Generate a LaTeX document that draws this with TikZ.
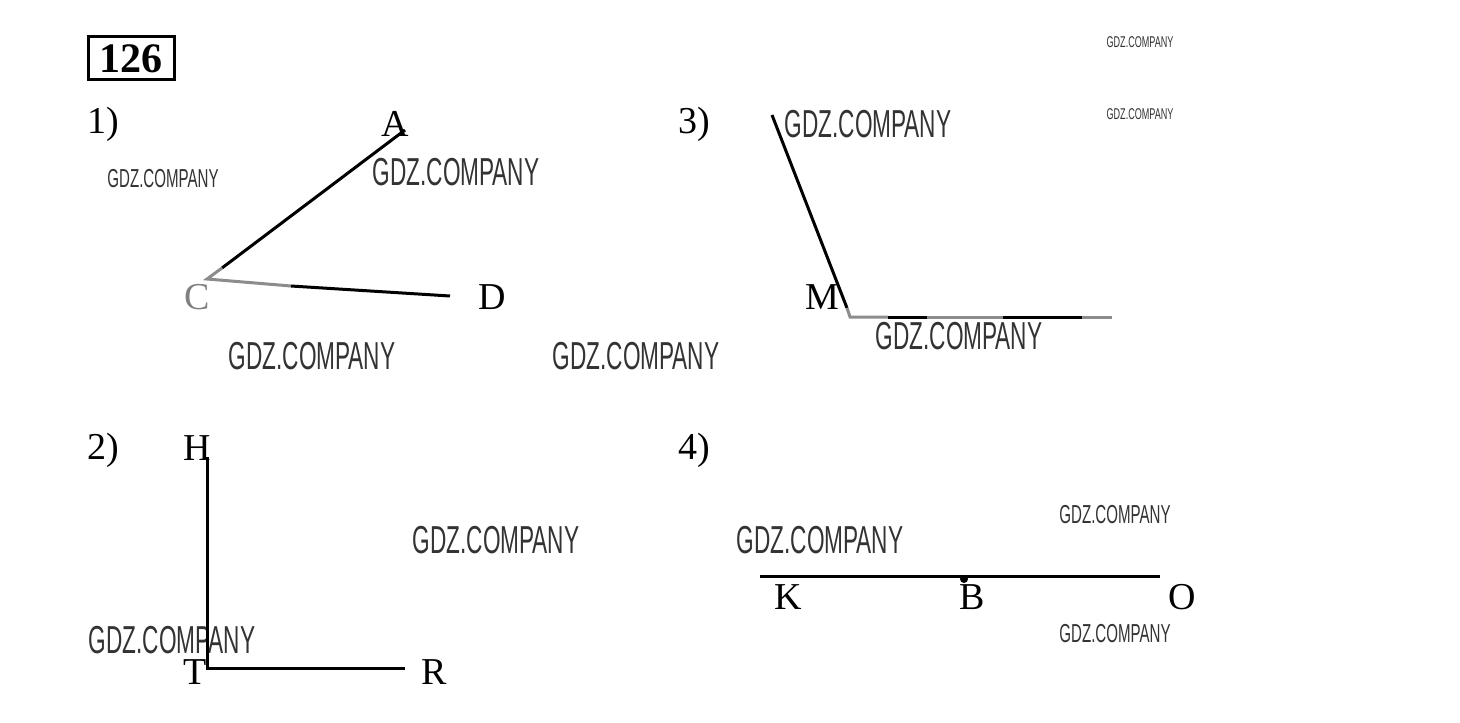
\documentclass[tikz,border=0pt]{standalone}
\usepackage{fontspec}
\setmainfont{Liberation Serif}
\newfontfamily\wmfont[FakeStretch=0.58]{Liberation Sans}
\begin{document}
\begin{tikzpicture}[x=0.5pt,y=-0.5pt,
  lbl/.style={inner sep=0pt,font=\fontsize{19}{19}\selectfont},
  wmbig/.style={inner sep=0pt,text=black!80,font=\wmfont\fontsize{19.5}{20}\selectfont},
  wmsmall/.style={inner sep=0pt,text=black!80,font=\wmfont\fontsize{13}{14}\selectfont},
  wmtiny/.style={inner sep=0pt,text=black!80,font=\wmfont\fontsize{7.8}{8}\selectfont},
  seg/.style={line width=1.5pt},
  gseg/.style={line width=1.5pt,draw=black!45}]
\useasboundingbox[fill=white] (0,0) rectangle (1460,722);
% title box
\node[draw,line width=1.5pt,minimum width=43pt,minimum height=21.5pt,inner sep=0pt,
  font=\bfseries\fontsize{21}{21}\selectfont] (num) at (131,58.5) {126};
% watermarks
\node[wmtiny] (w1) at (1140,42) {GDZ.COMPANY};
\node[wmtiny] (w2) at (1140,114) {GDZ.COMPANY};
\node[wmsmall] (w3) at (163,179) {GDZ.COMPANY};
\node[wmbig] (w4) at (456,172) {GDZ.COMPANY};
\node[wmbig] (w5) at (868,124) {GDZ.COMPANY};
\node[wmbig] (w6) at (312,356) {GDZ.COMPANY};
\node[wmbig] (w7) at (636,356) {GDZ.COMPANY};
\node[wmbig] (w8) at (959,336) {GDZ.COMPANY};
\node[wmbig] (w9) at (496,540) {GDZ.COMPANY};
\node[wmbig] (w10) at (820,540) {GDZ.COMPANY};
\node[wmbig] (w11) at (172,640) {GDZ.COMPANY};
\node[wmsmall] (w12) at (1115,515) {GDZ.COMPANY};
\node[wmsmall] (w13) at (1115,634) {GDZ.COMPANY};
% panel labels
\node[lbl] (p1) at (103,124) {1)};
\node[lbl] (p2) at (103,450) {2)};
\node[lbl] (p3) at (694,124) {3)};
\node[lbl] (p4) at (694,450) {4)};
% panel 1
\coordinate (A) at (405,130);
\coordinate (C) at (207,279);
\coordinate (Cb) at (222,268);
\coordinate (Dg) at (291,286);
\coordinate (D) at (450,296);
\node[lbl] (lA) at (395,124) {A};
\node[lbl,text=black!50] (lC) at (197,297) {C};
\node[lbl] (lD) at (492,297) {D};
\draw[seg] (A) -- (Cb);
\draw[gseg] (Cb) -- (C) -- (Dg);
\draw[seg] (Dg) -- (D);
% panel 3
\coordinate (N) at (772,115);
\coordinate (Mb) at (847,308);
\coordinate (M) at (850,317);
\coordinate (m1) at (888,317);
\coordinate (m2) at (927,317);
\coordinate (m3) at (1003,317);
\coordinate (m4) at (1082,317);
\coordinate (m5) at (1112,317);
\node[lbl] (lM) at (822,297) {M};
\draw[seg] (N) -- (Mb);
\draw[gseg] (Mb) -- (M) -- (m1);
\draw[seg] (m1) -- (m2);
\draw[gseg] (m2) -- (m3);
\draw[seg] (m3) -- (m4);
\draw[gseg] (m4) -- (m5);
% panel 2
\coordinate (H) at (207,457);
\coordinate (T) at (207,668);
\coordinate (R) at (405,668);
\node[lbl] (lH) at (197,448) {H};
\node[lbl] (lT) at (195,672) {T};
\node[lbl] (lR) at (434,672) {R};
\draw[seg] (H) -- (T) -- (R);
% panel 4
\coordinate (K) at (760,576);
\coordinate (O) at (1160,576);
\coordinate (B) at (964,579);
\node[lbl] (lK) at (788,597) {K};
\node[lbl] (lB) at (972,597) {B};
\node[lbl] (lO) at (1182,597) {O};
\draw[seg] (K) -- (O);
\fill (B) circle (4);
\end{tikzpicture}
\end{document}
